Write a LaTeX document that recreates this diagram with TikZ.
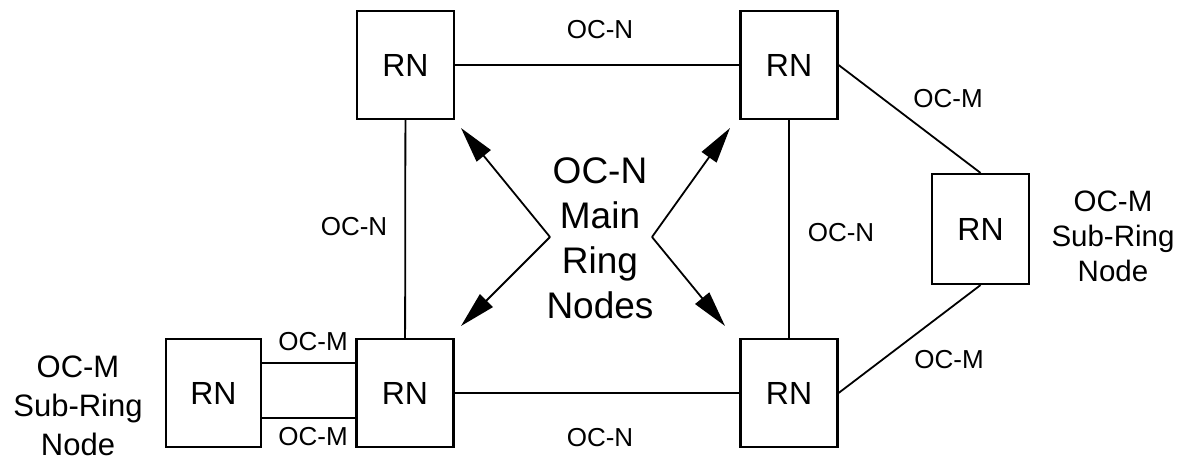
\documentclass[tikz,border=0pt]{standalone}
\usepackage{fontspec}
\setmainfont{Liberation Sans}
\usetikzlibrary{arrows.meta}
\begin{document}
\begin{tikzpicture}[x=1pt,y=-1pt,
  rn/.style={draw,line width=2.2pt,minimum width=97pt,minimum height=108pt,inner sep=0pt,font=\fontsize{32}{38}\selectfont},
  link/.style={line width=1.8pt},
  lbl/.style={inner sep=0pt,font=\fontsize{26}{30}\selectfont},
  side/.style={inner sep=0pt,align=center},
  arr/.style={line width=1.8pt,-{Triangle[length=36pt,width=18pt]}}]
\useasboundingbox (0,0) rectangle (1187,465);
\node[rn] (tl) at (405.5,65) {RN};
\node[rn] (tr) at (789,65) {RN};
\node[rn,minimum height=110pt] (r) at (980.5,229) {RN};
\node[rn] (bl) at (405,393) {RN};
\node[rn,minimum width=95pt] (sub) at (213.5,393) {RN};
\node[rn] (br) at (789,393) {RN};
\draw[link] (tl) -- (tr);
\draw[link] (tl) -- (bl);
\draw[link] (tr) -- (br);
\draw[link] (bl) -- (br);
\draw[link] (tr.east) -- (r.north);
\draw[link] (r.south) -- (br.east);
\draw[link] ([yshift=30pt]sub.east) -- ([yshift=30pt]bl.west);
\draw[link] ([yshift=-25pt]sub.east) -- ([yshift=-25pt]bl.west);
\node[lbl] (l1) at (600,30) {OC-N};
\node[lbl] (l2) at (354,227) {OC-N};
\node[lbl] (l3) at (841,233) {OC-N};
\node[lbl] (l4) at (600,438) {OC-N};
\node[lbl] (l5) at (948,99) {OC-M};
\node[lbl] (l6) at (949,360) {OC-M};
\node[lbl] (l7) at (313,342) {OC-M};
\node[lbl] (l8) at (313,437) {OC-M};
\node[side,font=\fontsize{37}{45}\selectfont] (main) at (600,238) {OC-N\\Main\\Ring\\Nodes};
\node[side,font=\fontsize{31}{39}\selectfont] (ls) at (78,406) {OC-M\\Sub-Ring\\Node};
\node[side,font=\fontsize{29.5}{35}\selectfont] (rs) at (1113,236) {OC-M\\Sub-Ring\\Node};
\coordinate (al) at (550,237);
\coordinate (ar) at (652,237);
\coordinate (t1) at (461,128);
\coordinate (t2) at (461,326);
\coordinate (t3) at (730,128);
\coordinate (t4) at (725,326);
\draw[arr] (al) -- (t1);
\draw[arr] (al) -- (t2);
\draw[arr] (ar) -- (t3);
\draw[arr] (ar) -- (t4);
\end{tikzpicture}
\end{document}
